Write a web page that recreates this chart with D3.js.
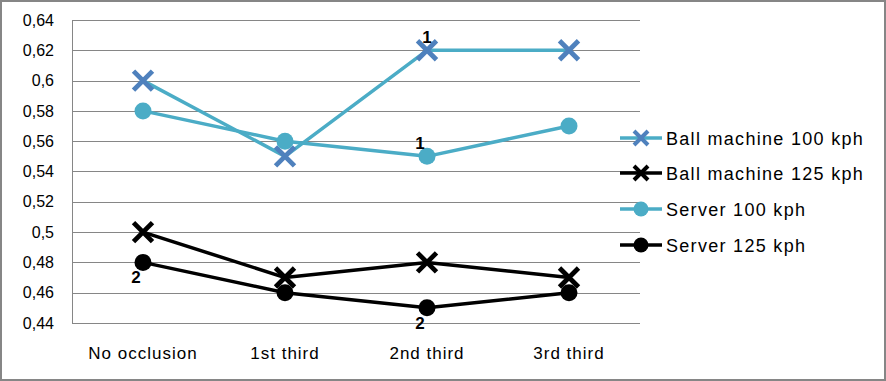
<!DOCTYPE html>
<html><head><meta charset="utf-8">
<script src="https://cdn.jsdelivr.net/npm/d3@7"></script>
<style>body{margin:0;background:#fff}svg{display:block;font-family:"Liberation Sans",Arial,sans-serif}</style>
</head><body><svg id="c" width="886" height="381"></svg>
<script>
const categories = ["No occlusion","1st third","2nd third","3rd third"];
const ballMachine100 = [0.60,0.55,0.62,0.62];
const ballMachine125 = [0.50,0.47,0.48,0.47];
const server100 = [0.58,0.56,0.55,0.57];
const server125 = [0.48,0.46,0.45,0.46];
const yTicks = [0.44,0.46,0.48,0.50,0.52,0.54,0.56,0.58,0.60,0.62,0.64];
const seriesNames = ["Ball machine 100 kph","Ball machine 125 kph","Server 100 kph","Server 125 kph"];
// annotations: [seriesIndex, categoryIndex, text, position]
const annotations = [[0,2,"1","above"],[2,2,"1","above"],[3,0,"2","below"],[3,2,"2","below"]];

const series = [
  {name:seriesNames[0], values:ballMachine100, line:"#4BACC6", marker:"x", mcolor:"#4F81BD"},
  {name:seriesNames[1], values:ballMachine125, line:"#000000", marker:"x", mcolor:"#000000"},
  {name:seriesNames[2], values:server100, line:"#4BACC6", marker:"o", mcolor:"#4BACC6"},
  {name:seriesNames[3], values:server125, line:"#000000", marker:"o", mcolor:"#000000"}
];

const svg = d3.select("#c");
svg.append("rect").attr("x",1).attr("y",1).attr("width",884).attr("height",379)
  .attr("fill","#fff").attr("stroke","#868686").attr("stroke-width",2);

const L=72,R=640,T=20,B=323;
const x = d3.scaleBand().domain(categories).range([L,R]);
const y = d3.scaleLinear().domain([0.44,0.64]).range([B,T]);
const fmt = d=>d3.format(".2~f")(d).replace(".",",");

// gridlines
svg.append("g").selectAll("line").data(yTicks).join("line")
  .attr("x1",L).attr("x2",R).attr("y1",d=>Math.round(y(d))+0.5).attr("y2",d=>Math.round(y(d))+0.5)
  .attr("stroke","#868686").attr("stroke-width",1);
svg.append("line").attr("x1",L+0.5).attr("x2",L+0.5).attr("y1",T).attr("y2",B+0.5).attr("stroke","#868686");

// y axis
const ya = svg.append("g").attr("transform",`translate(${L},0)`)
  .call(d3.axisLeft(y).tickValues(yTicks).tickFormat(fmt).tickSize(0).tickPadding(18));
ya.select(".domain").remove();
ya.selectAll("text").attr("font-size",16).attr("fill","#000").attr("font-family","Liberation Sans, Arial, sans-serif");

// x axis
const xa = svg.append("g").attr("transform",`translate(0,${B})`)
  .call(d3.axisBottom(x).tickSize(0).tickPadding(24));
xa.select(".domain").remove();
xa.selectAll("text").attr("font-size",17).attr("letter-spacing",1).attr("fill","#000").attr("font-family","Liberation Sans, Arial, sans-serif");

const cx = c=>x(c)+x.bandwidth()/2;
const line = d3.line().x((d,i)=>cx(categories[i])).y(d=>y(d));

function marker(g, type, color, px, py, s, w){
  if(type==="x"){
    g.append("path").attr("d",`M${px-s},${py-s}L${px+s},${py+s}M${px-s},${py+s}L${px+s},${py-s}`)
      .attr("stroke",color).attr("stroke-width",w).attr("fill","none");
  } else {
    g.append("circle").attr("cx",px).attr("cy",py).attr("r",s).attr("fill",color);
  }
}

series.forEach(s=>{
  const g = svg.append("g");
  g.append("path").datum(s.values).attr("d",line).attr("fill","none")
    .attr("stroke",s.line).attr("stroke-width",3.5).attr("stroke-linejoin","round");
  s.values.forEach((v,i)=>marker(g,s.marker,s.mcolor,cx(categories[i]),y(v),s.marker==="x"?9.5:8.5,4.8));
});

// annotations
annotations.forEach(([si,ci,t,pos])=>{
  const v = series[si].values[ci];
  const px = cx(categories[ci]) + (si===0?0:-7);
  const py = pos==="above" ? y(v)-7 : y(v)+21;
  svg.append("text").attr("x",px).attr("y",py).attr("text-anchor","middle")
    .attr("font-size",17).attr("font-weight","bold").text(t);
});

// legend
const lg = svg.append("g");
series.forEach((s,i)=>{
  const ly = [138,173,209,245][i];
  lg.append("line").attr("x1",620).attr("x2",662).attr("y1",ly).attr("y2",ly)
    .attr("stroke",s.line).attr("stroke-width",3.5);
  marker(lg,s.marker,s.mcolor,641,ly,s.marker==="x"?7:7.5,4);
  lg.append("text").attr("x",666).attr("y",ly+6.5).attr("font-size",18).attr("letter-spacing",1.3).text(s.name);
});
</script></body></html>
